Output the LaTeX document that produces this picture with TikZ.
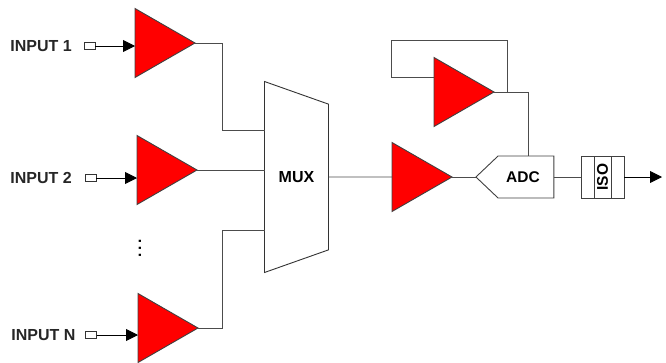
\documentclass[tikz,border=0pt]{standalone}
\usepackage{fontspec}
\setmainfont{Liberation Sans}
\usetikzlibrary{shapes.geometric, shapes.symbols, arrows.meta}
\tikzstyle{amp} = [isosceles triangle, isosceles triangle stretches, shape border rotate=0, minimum width=69pt, minimum height=60pt, inner sep=0pt, outer sep=0pt, draw=black!75, fill=red, anchor=apex]
\tikzstyle{inlabel} = [font=\bfseries\fontsize{16}{16}\selectfont, text=black!85, inner sep=0pt, anchor=west]
\tikzstyle{pin} = [rectangle, minimum width=11pt, minimum height=7pt, inner sep=0pt, outer sep=0pt, draw=black!80, fill=white]
\tikzstyle{mux} = [trapezium, trapezium stretches body=true, shape border rotate=270, trapezium angle=57.5, minimum width=191pt, minimum height=64pt, inner sep=0pt, outer sep=0pt, draw=black!80, fill=white, font=\bfseries\fontsize{16}{16}\selectfont]
\tikzstyle{adc} = [signal, signal to=west, signal pointer angle=87, minimum width=78pt, minimum height=42pt, inner sep=0pt, outer sep=0pt, draw=black!75, fill=white, font=\bfseries\fontsize{15.5}{15.5}\selectfont]
\tikzstyle{isocell} = [rectangle, minimum height=42pt, inner sep=0pt, outer sep=0pt, draw=black!75, fill=white]
\tikzstyle{wire} = [draw=black!70, line width=0.9pt]
\tikzstyle{arrow} = [wire, -{Triangle[length=12pt,width=12pt]}, black]

\begin{document}
\begin{tikzpicture}[x=1pt, y=-1pt, line width=0.9pt]
\useasboundingbox (0,0) rectangle (666,362);

% Nodes
\node (amp1) [amp] at (195,43) {};
\node (amp2) [amp] at (197,170) {};
\node (ampN) [amp] at (198,328) {};
\node (amp3) [amp] at (452,177) {};
\node (amp4) [amp] at (494,92) {};

\node (label1) [inlabel] at (10,46) {INPUT 1};
\node (label2) [inlabel] at (10,178) {INPUT 2};
\node (labelN) [inlabel] at (11,335) {INPUT N};
\node (pin1) [pin] at (89.5,46) {};
\node (pin2) [pin] at (90.5,178) {};
\node (pinN) [pin] at (91,335) {};
\node (dots) [font=\bfseries\fontsize{15.5}{15.5}\selectfont, inner sep=0pt, rotate=90] at (140,248) {.\kern2.7pt.\kern2.7pt.};

\node (mux1) [mux] at (296.5,177) {MUX};
\node (adc1) [adc] at (526,177) {ADC\kern6pt};
\node (iso1) [isocell, minimum width=17pt] at (602.5,177) {};
\node (isoL) [isocell, minimum width=13pt] at (587.5,177) {};
\node (isoR) [isocell, minimum width=13pt] at (617.5,177) {};
\node (isotxt) [rotate=90, inner sep=0pt, font=\bfseries\fontsize{15.5}{15.5}\selectfont] at (iso1) {ISO};
\coordinate (out) at (662,177);
\coordinate (fbtop) at (391,40);
\coordinate (fbright) at (507,40);

% Arrows
\draw [arrow] (pin1.east) -- (pin1.east -| amp1.lower side);
\draw [arrow] (pin2.east) -- (pin2.east -| amp2.lower side);
\draw [arrow] (pinN.east) -- (pinN.east -| ampN.lower side);
\draw [wire] (amp1.apex) -| (222,130) -- (mux1.west |- 0,130);
\draw [wire] (amp2.apex) -- (mux1.west |- amp2.apex);
\draw [wire] (ampN.apex) -| (222,230.5) -- (mux1.west |- 0,230.5);
\draw [wire] (mux1.east) -- (amp3.lower side);
\draw [wire] (amp3.apex) -- (adc1.west);
\draw [wire] (amp4.lower side |- 0,77) -| (fbtop) -- (fbright) -- (fbright |- amp4.apex);
\draw [wire] (amp4.apex) -| (528,156);
\draw [wire] (adc1.east) -- (isoL.west);
\draw [arrow] (isoR.east) -- (out);

\end{tikzpicture}
\end{document}
